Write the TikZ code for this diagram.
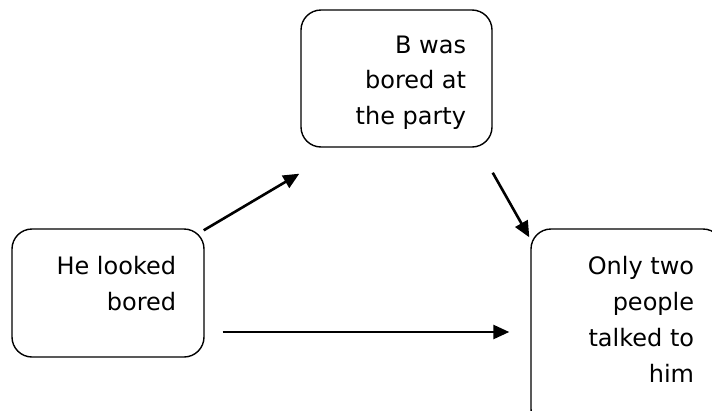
\documentclass[tikz,border=0pt]{standalone}
\usepackage{fontspec}
\setmainfont{DejaVu Sans}
\usetikzlibrary{arrows.meta,calc}
\begin{document}
\begin{tikzpicture}[x=1pt,y=-1pt,
  box/.style={draw=black,line width=1.4pt,rounded corners=20pt,inner sep=0pt},
  lab/.style={align=right,inner sep=0pt,font=\fontsize{24}{36}\selectfont,anchor=north east},
  arr/.style={line width=2.6pt,-{Triangle[length=16pt,width=14pt]}}]
\useasboundingbox (0,0) rectangle (712,410);
\clip (0,0) rectangle (712,410);
\node[box,minimum width=191pt,minimum height=137pt] (T) at (396.5,78.5) {};
\node[box,minimum width=192pt,minimum height=128pt] (L) at (108,293) {};
\node[box,minimum width=192pt,minimum height=200pt] (R) at (627,329) {};
\node[lab] (Tt) at ($(T.north west)+(166,26)$) {B was\\bored at\\the party};
\node[lab] (Lt) at ($(L.north west)+(165,28)$) {He looked\\bored};
\node[lab] (Rt) at ($(R.north west)+(164,28)$) {Only two\\people\\talked to\\him};
\coordinate (a1s) at ($(L.north east)+(-1,2)$);
\coordinate (a1e) at ($(T.south west)+(-1,26)$);
\coordinate (a2s) at ($(T.south east)+(0,25)$);
\coordinate (a2e) at ($(R.north west)+(-1,9)$);
\coordinate (a3s) at ($(L.east)+(18,39)$);
\coordinate (a3e) at ($(R.west)+(-21,3)$);
\draw[arr] (a1s) -- (a1e);
\draw[arr] (a2s) -- (a2e);
\draw[arr] (a3s) -- (a3e);
\end{tikzpicture}
\end{document}
